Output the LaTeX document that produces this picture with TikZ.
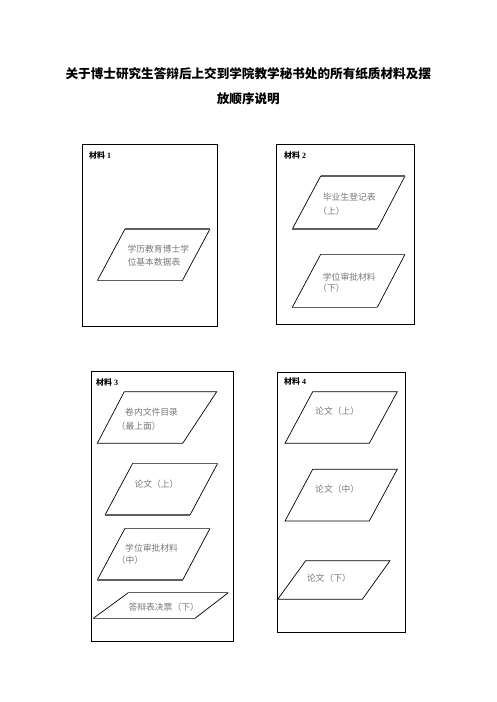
\documentclass[tikz,border=0pt]{standalone}
\usepackage{fontspec}
\setmainfont{Liberation Serif}
\newfontfamily\cjk{Noto Sans CJK SC}
\usepackage{xcolor}
\usepackage{tikz}

\definecolor{sheetgray}{RGB}{120,120,120}
\definecolor{edgegray}{RGB}{95,95,95}

\tikzset{
    boxline/.style={line width=0.8pt, black},
    sheetline/.style={line width=0.7pt, black},
    sheetedge/.style={line width=1.4pt, edgegray},
    boxlabel/.style={anchor=west, inner sep=0pt, font=\fontsize{8}{9}\selectfont\bfseries},
    sheettext/.style={anchor=west, inner sep=0pt, text=sheetgray, font=\fontsize{8.8}{11}\selectfont\cjk}
}

\begin{document}
\begin{tikzpicture}[x=1pt, y=-1pt]
    \useasboundingbox (0,0) rectangle (496,702);

    % Title
    \node[font=\fontsize{12.6}{14}\selectfont\cjk\bfseries] (title1) at (248.3,74) {关于博士研究生答辩后上交到学院教学秘书处的所有纸质材料及摆};
    \node[font=\fontsize{12.6}{14}\selectfont\cjk\bfseries] (title2) at (248.3,98.5) {放顺序说明};

    % Material 1
    \draw[boxline] (82.3,144.3) rectangle (217.3,326);
    \node[boxlabel] (lab1) at (89,155) {{\cjk 材料}~1};
    \draw[sheetline] (97.3,280.7) -- (125,229) (210,229) -- (182.3,280.7);
    \draw[sheetedge] (125,229) -- (210,229) (97.3,280.7) -- (182.3,280.7);
    \node[sheettext] (s1a) at (127.3,249) {学历教育博士学};
    \node[sheettext] (s1b) at (127.3,261.7) {位基本数据表};

    % Material 2
    \draw[boxline] (276.7,144.3) rectangle (414,324.3);
    \node[boxlabel] (lab2) at (284,155) {{\cjk 材料}~2};
    \draw[sheetline] (292.3,229) -- (320.7,176) (405,176) -- (377.3,229);
    \draw[sheetedge] (320.7,176) -- (405,176) (292.3,229) -- (377.3,229);
    \node[sheettext] (s2a) at (322.7,197.3) {毕业生登记表};
    \node[sheettext] (s2b) at (318,211) {（上）};
    \draw[sheetline] (292.3,307.3) -- (320.7,254.3) (405,254.3) -- (377.3,307.3);
    \draw[sheetedge] (320.7,254.3) -- (405,254.3) (292.3,307.3) -- (377.3,307.3);
    \node[sheettext] (s2c) at (322.7,276.7) {学位审批材料};
    \node[sheettext] (s2d) at (318,288.5) {（下）};

    % Material 3
    \draw[boxline] (91,371.7) rectangle (233,641);
    \node[boxlabel] (lab3) at (96,382.3) {{\cjk 材料}~3};
    \draw[sheetline] (124.3,391.7) -- (216.7,391.7) -- (182.7,443.3) -- (97.3,443.3) -- cycle;
    \node[sheettext] (s3a) at (125,411.7) {卷内文件目录};
    \node[sheettext] (s3b) at (116.5,426) {（最上面）};
    \draw[sheetline] (105,515) -- (132.7,463.3) (217.7,463.3) -- (190,515);
    \draw[sheetedge] (132.7,463.3) -- (217.7,463.3) (105,515) -- (190,515);
    \node[sheettext] (s3c) at (134.3,484.3) {论文（上）};
    \draw[sheetline] (97.3,580) -- (125,528.3) (210,528.3) -- (182.7,580);
    \draw[sheetedge] (125,528.3) -- (210,528.3) (97.3,580) -- (182.7,580);
    \node[sheettext] (s3d) at (125,548.3) {学位审批材料};
    \node[sheettext] (s3e) at (116.5,560.5) {（中）};
    \draw[sheetline] (93.3,618.3) -- (128.3,592.7) (228.3,592.7) -- (195,618.3);
    \draw[sheetedge] (128.3,592.7) -- (228.3,592.7) (93.3,618.3) -- (195,618.3);
    \node[sheettext] (s3f) at (128.3,606.7) {答辩表决票（下）};

    % Material 4
    \draw[boxline] (277.5,372.3) rectangle (405.5,632.3);
    \node[boxlabel] (lab4) at (284,381.7) {{\cjk 材料}~4};
    \draw[sheetline] (312.7,391.7) -- (397.3,391.7) -- (369.3,443.3) -- (285,443.3) -- cycle;
    \node[sheettext] (s4a) at (315,411) {论文（上）};
    \draw[sheetline] (312.7,469.3) -- (397.3,469.3) -- (369.3,521) -- (285,521) -- cycle;
    \node[sheettext] (s4b) at (315,489) {论文（中）};
    \draw[sheetline] (305.7,560.7) -- (390,560.7) -- (362.3,599.3) -- (277.7,599.3) -- cycle;
    \node[sheettext] (s4c) at (306.7,577.7) {论文（下）};

\end{tikzpicture}
\end{document}
